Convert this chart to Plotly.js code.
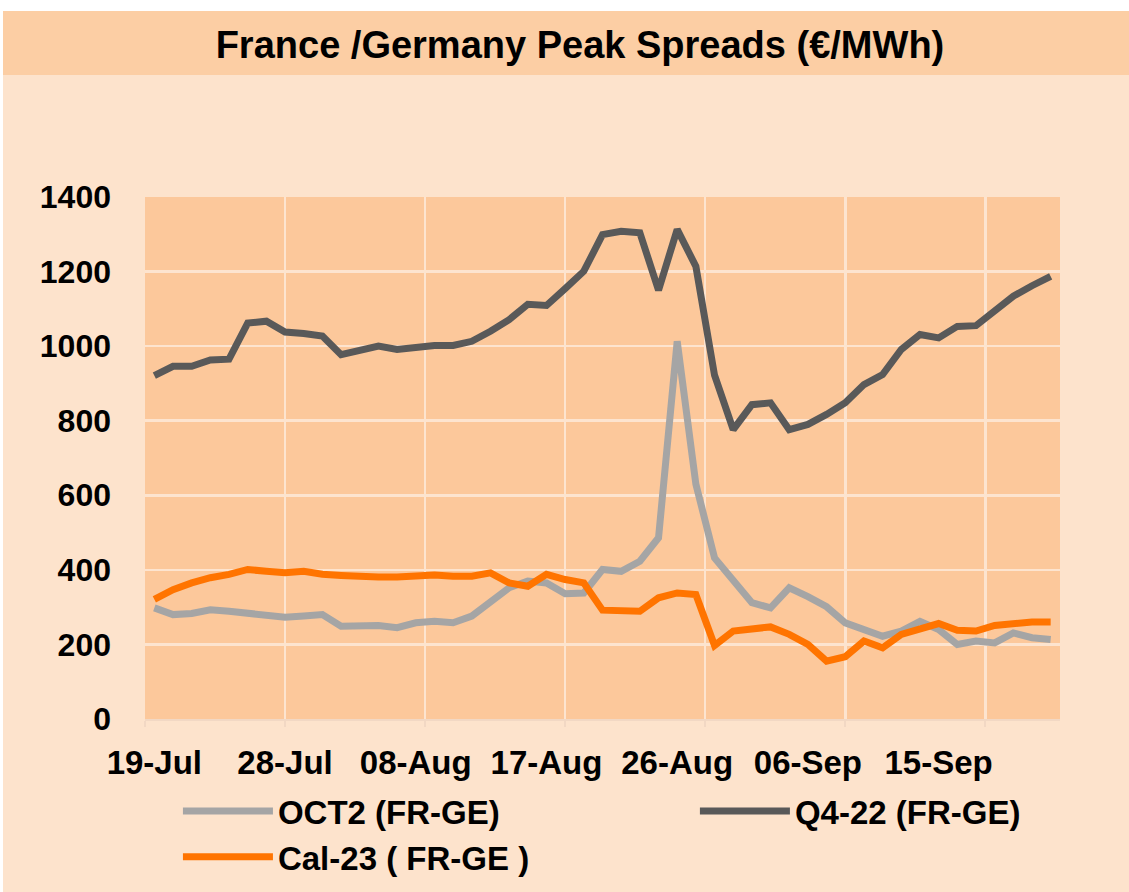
<!DOCTYPE html>
<html><head><meta charset="utf-8">
<script src="https://cdn.plot.ly/plotly-3.0.1.min.js"></script>
<style>
html,body{margin:0;padding:0;background:#ffffff;}
#chart{position:absolute;left:3px;top:11px;width:1126px;height:881px;}
</style></head><body><div id="chart"></div>
<script>
const dates = ['19-Jul','20-Jul','21-Jul','22-Jul','25-Jul','26-Jul','27-Jul','28-Jul','29-Jul',
  '01-Aug','02-Aug','03-Aug','04-Aug','05-Aug','08-Aug','09-Aug','10-Aug','11-Aug','12-Aug',
  '15-Aug','16-Aug','17-Aug','18-Aug','19-Aug','22-Aug','23-Aug','24-Aug','25-Aug','26-Aug',
  '29-Aug','30-Aug','31-Aug','01-Sep','02-Sep','05-Sep','06-Sep','07-Sep','08-Sep','09-Sep',
  '12-Sep','13-Sep','14-Sep','15-Sep','16-Sep','19-Sep','20-Sep','21-Sep','22-Sep','23-Sep'];
const tickLabels = ['19-Jul','28-Jul','08-Aug','17-Aug','26-Aug','06-Sep','15-Sep'];
const oct2 = [298,280,283,293,289,283,280,273,276,280,249,249,251,245,258,262,258,276,316,
  352,370,365,336,338,401,396,423,486,1013,630,432,374,312,298,352,328,301,258,240,222,236,
  262,240,200,209,204,231,218,213];
const q422 = [921,946,946,963,965,1062,1067,1038,1034,1027,977,989,1000,991,998,1002,1002,1013,
  1040,1071,1112,1109,1154,1201,1299,1308,1304,1150,1313,1214,922,776,843,848,776,790,817,848,
  897,924,991,1031,1022,1053,1055,1094,1134,1162,1187];
const cal23 = [321,347,365,379,388,401,396,392,396,388,385,381,381,381,383,386,383,383,392,365,
  356,388,374,365,292,289,289,325,338,334,197,236,242,247,227,200,155,167,209,191,227,240,256,
  238,236,251,256,260,260];
const seriesNames = ['OCT2 (FR-GE)','Q4-22 (FR-GE)','Cal-23 ( FR-GE )'];
const seriesColors = ['#A5A5A5','#595959','#FF7400'];
// category positions (0..n-1) for the overlay axis that carries the grid
const dayIndex = dates.map((d, i) => i);

const FONT = 'Liberation Sans, Arial, sans-serif';
const GRID = '#FDE4CF';

const traces = [
  {x: dates, y: oct2, name: seriesNames[0], type:'scatter', mode:'lines',
   line:{color:seriesColors[0], width:7}, legend:'legend'},
  {x: dates, y: q422, name: seriesNames[1], type:'scatter', mode:'lines',
   line:{color:seriesColors[1], width:7}, legend:'legend2'},
  {x: dayIndex, y: cal23, name: seriesNames[2], type:'scatter', mode:'lines', xaxis:'x2',
   text: dates, hoverinfo:'text+y',
   line:{color:seriesColors[2], width:7}, legend:'legend'}
];

const legendFont = {family:FONT, size:33, color:'#000', weight:'bold'};
const layout = {
  width:1126, height:881,
  paper_bgcolor:'#FDE3CC', plot_bgcolor:'#FCC89B',
  margin:{l:142, r:69, t:186, b:173, autoexpand:false},
  title:{text:'France /Germany Peak Spreads (€/MWh)', font:{family:FONT, size:38, color:'#000', weight:'bold'},
    xref:'container', yref:'container', x:0.5124, y:0.9614, xanchor:'center', yanchor:'middle'},
  xaxis:{type:'category', categoryorder:'array', categoryarray:dates, range:[-0.5,48.5],
    tickmode:'array', tickvals:tickLabels, ticktext:tickLabels, showgrid:false, zeroline:false,
    showline:false, ticks:'', tickfont:{family:FONT, size:33, color:'#000', weight:'bold'},
    ticklabelstandoff:21, fixedrange:true},
  xaxis2:{overlaying:'x', anchor:'y', side:'bottom', type:'linear', range:[-0.5,48.5], tick0:-0.5, dtick:7.5,
    showticklabels:false, showgrid:true, gridcolor:GRID, gridwidth:2.5, zeroline:false,
    ticks:'outside', ticklen:6, tickwidth:2, tickcolor:'#F2D8C4', showline:true, linecolor:'#F2D8C4', linewidth:2,
    fixedrange:true},
  yaxis:{range:[0,1400], dtick:200, tick0:0, showgrid:true, gridcolor:GRID, gridwidth:2.5, zeroline:false,
    showline:false, ticks:'', tickfont:{family:FONT, size:32, color:'#000', weight:'bold'},
    ticklabelstandoff:33, fixedrange:true},
  showlegend:true,
  legend:{x:0.036, y:-0.1225, xanchor:'left', yanchor:'top', orientation:'v', bgcolor:'rgba(0,0,0,0)',
    font:legendFont, itemwidth:90, traceorder:'normal'},
  legend2:{x:0.601, y:-0.1225, xanchor:'left', yanchor:'top', orientation:'v', bgcolor:'rgba(0,0,0,0)',
    font:legendFont, itemwidth:90},
  shapes:[{type:'rect', xref:'paper', yref:'paper', x0:-0.3, x1:1.3, y0:1.2337, y1:1.5,
    fillcolor:'#FCCEA4', line:{width:0}, layer:'below'}]
};
Plotly.newPlot('chart', traces, layout, {displayModeBar:false, staticPlot:true});
</script></body></html>
